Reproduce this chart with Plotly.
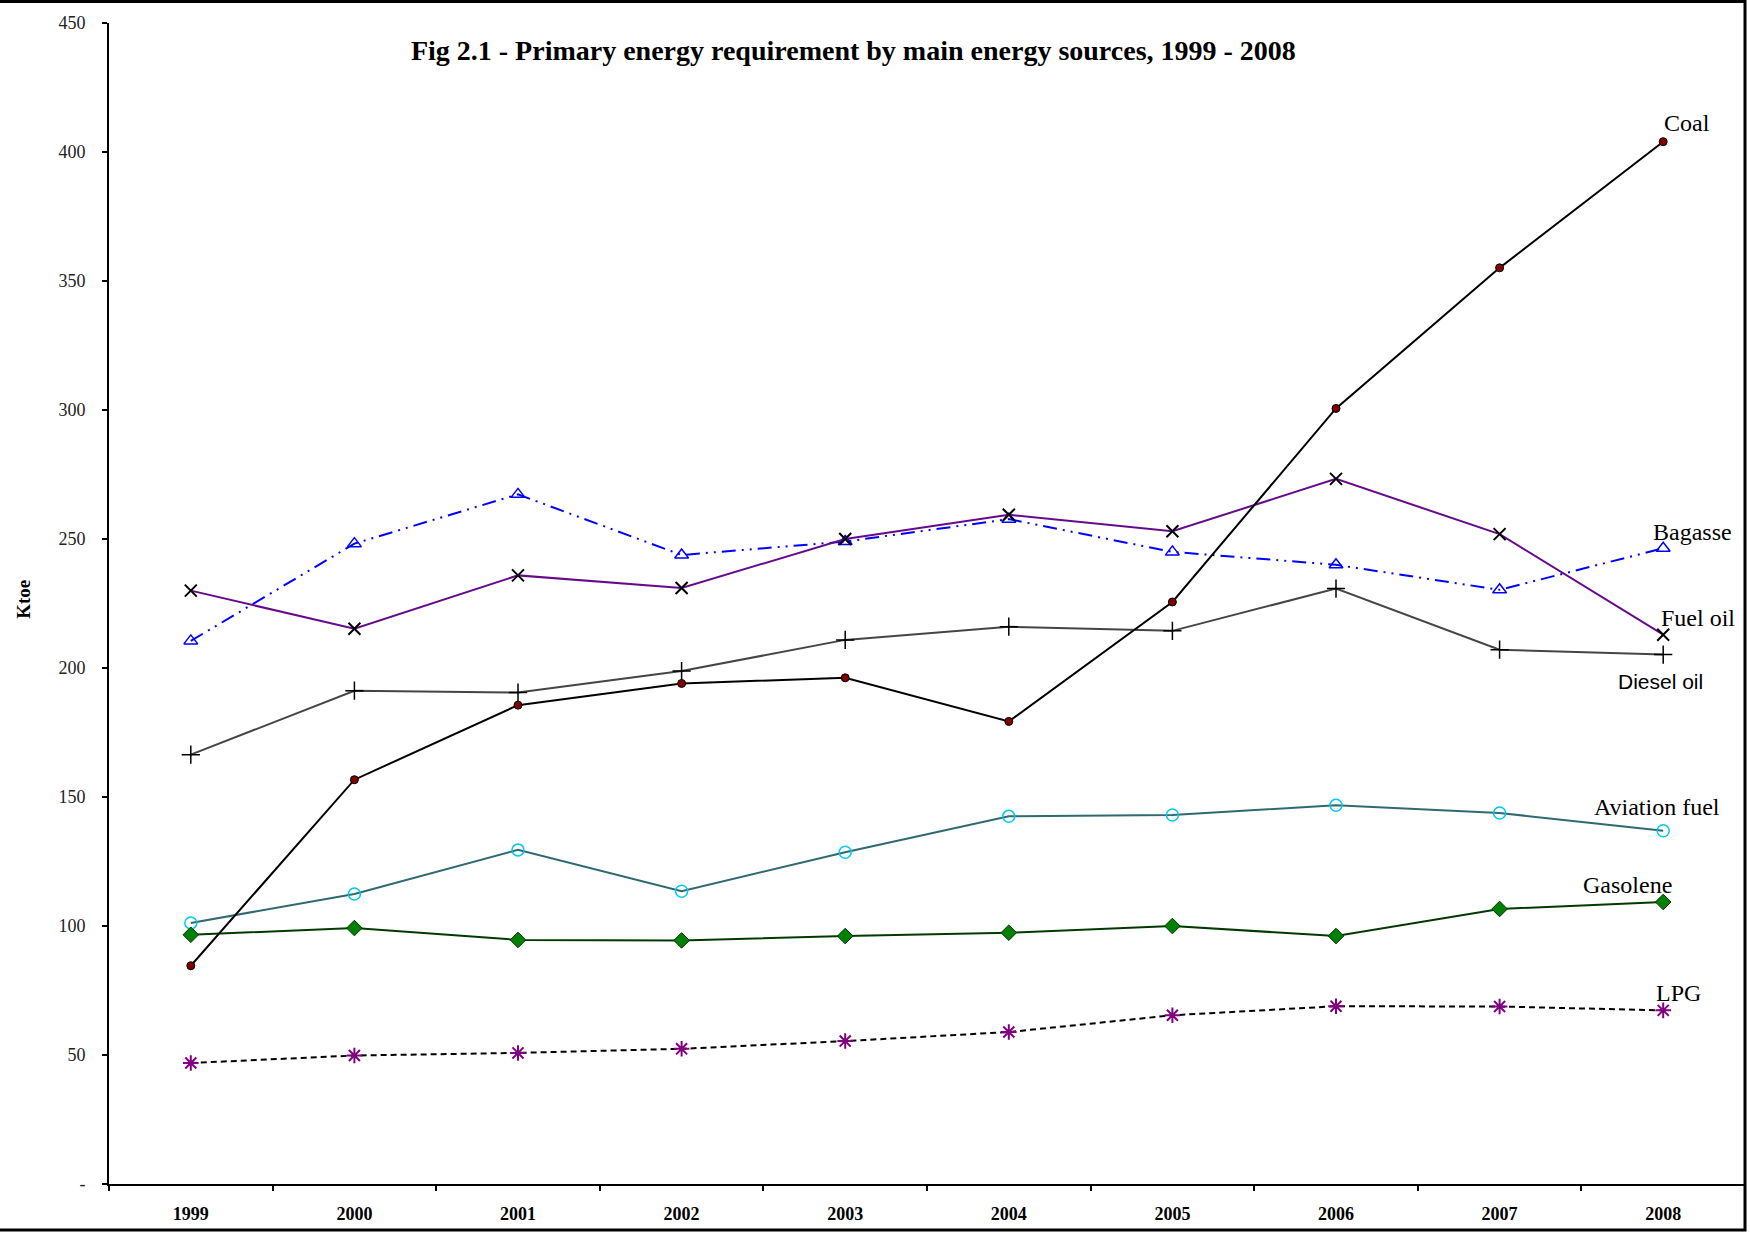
import plotly.graph_objects as go

years = ["1999", "2000", "2001", "2002", "2003", "2004", "2005", "2006", "2007", "2008"]

coal = [84.6, 156.7, 185.6, 194.0, 196.2, 179.3, 225.6, 300.6, 355.1, 404.0]
bagasse = [210.5, 248.2, 267.3, 243.8, 249.0, 257.7, 245.0, 240.0, 230.3, 246.4]
fuel_oil = [230.0, 215.2, 235.9, 231.0, 250.0, 259.4, 253.0, 273.3, 251.9, 212.9]
diesel_oil = [166.4, 191.2, 190.5, 198.8, 210.9, 216.0, 214.4, 230.8, 207.1, 205.2]
aviation_fuel = [101.2, 112.4, 129.5, 113.5, 128.6, 142.5, 143.0, 146.8, 143.8, 136.9]
gasolene = [96.6, 99.2, 94.6, 94.4, 96.1, 97.4, 100.0, 96.1, 106.6, 109.3]
lpg = [46.9, 49.8, 50.8, 52.4, 55.4, 58.9, 65.4, 68.9, 68.8, 67.3]

y_tickvals = [0, 50, 100, 150, 200, 250, 300, 350, 400, 450]
y_ticktext = ["-", "50", "100", "150", "200", "250", "300", "350", "400", "450"]

title_text = "Fig 2.1 - Primary energy requirement by main energy sources, 1999 - 2008"

SERIF = "Liberation Serif, Times New Roman, serif"

fig = go.Figure()

fig.add_trace(go.Scatter(x=years, y=bagasse, name="Bagasse", mode="lines+markers",
                         line=dict(color="#0000FF", width=2, dash="14px,6px,2px,6px,2px,6px"),
                         marker=dict(symbol="triangle-up-open", size=12, color="#0000FF",
                                     line=dict(width=1.5, color="#0000FF"))))
fig.add_trace(go.Scatter(x=years, y=fuel_oil, name="Fuel oil", mode="lines+markers",
                         line=dict(color="#660A8C", width=2),
                         marker=dict(symbol="x-thin", size=12, color="#000000",
                                     line=dict(width=2, color="#000000"))))
fig.add_trace(go.Scatter(x=years, y=diesel_oil, name="Diesel oil", mode="lines+markers",
                         line=dict(color="#454545", width=2),
                         marker=dict(symbol="cross-thin", size=13, color="#000000",
                                     line=dict(width=1.5, color="#000000"))))
fig.add_trace(go.Scatter(x=years, y=aviation_fuel, name="Aviation fuel", mode="lines+markers",
                         line=dict(color="#2E6A70", width=2),
                         marker=dict(symbol="circle-open", size=12, color="#00C8F0",
                                     line=dict(width=1.5, color="#00C8F0"))))
fig.add_trace(go.Scatter(x=years, y=gasolene, name="Gasolene", mode="lines+markers",
                         line=dict(color="#003A00", width=2),
                         marker=dict(symbol="diamond", size=12, color="#008000",
                                     line=dict(width=1, color="#003300"))))
fig.add_trace(go.Scatter(x=years, y=lpg, name="LPG", mode="lines+markers",
                         line=dict(color="#000000", width=2, dash="6px,4px"),
                         marker=dict(symbol="asterisk-open", size=13, color="#800080",
                                     line=dict(width=2, color="#800080"))))
fig.add_trace(go.Scatter(x=years, y=coal, name="Coal", mode="lines+markers",
                         line=dict(color="#000000", width=2),
                         marker=dict(symbol="circle", size=8, color="#800000",
                                     line=dict(width=1, color="#000000"))))

last_idx = len(years) - 1
labels = [
    ("Coal", coal, 24, 19, SERIF, 24),
    ("Bagasse", bagasse, 29, 16, SERIF, 24),
    ("Fuel oil", fuel_oil, 35, 17, SERIF, 24),
    ("Diesel oil", diesel_oil, -3, -27, "Liberation Sans, Arial, sans-serif", 21),
    ("Aviation fuel", aviation_fuel, -6, 24, SERIF, 24),
    ("Gasolene", gasolene, -36, 17, SERIF, 24),
    ("LPG", lpg, 15, 17, SERIF, 24),
]
for text, series, dx, dy, fam, sz in labels:
    fig.add_annotation(x=last_idx, y=series[-1], text=text, showarrow=False,
                       xshift=dx, yshift=dy, xanchor="center", yanchor="middle",
                       font=dict(family=fam, size=sz, color="#000000"))

fig.add_annotation(xref="paper", yref="paper", x=-0.052, y=0.504, text="<b>Ktoe</b>",
                   textangle=-90, showarrow=False, xanchor="center", yanchor="middle",
                   font=dict(family=SERIF, size=19, color="#000000"))

# outer frame of the chart
fig.add_shape(type="rect", xref="paper", yref="paper", x0=-0.2, x1=1.0, y0=-0.0396, y1=1.0185,
              line=dict(color="#000000", width=3), fillcolor="rgba(0,0,0,0)", layer="above")

fig.update_layout(
    width=1750, height=1233,
    margin=dict(l=109, r=5, t=23, b=49),
    paper_bgcolor="#FFFFFF", plot_bgcolor="#FFFFFF",
    showlegend=False,
    title=dict(text="<b>" + title_text + "</b>", x=0.455, xref="paper", xanchor="center",
               y=1 - 50 / 1233, yref="container", yanchor="middle",
               font=dict(family=SERIF, size=28, color="#000000")),
    font=dict(family=SERIF, color="#000000"),
)

fig.update_xaxes(type="category", categoryorder="array", categoryarray=years,
                 range=[-0.5, 9.5], tickson="boundaries", ticks="outside", ticklen=5,
                 tickwidth=2, tickcolor="#000000", showline=True, linecolor="#000000",
                 linewidth=2, showgrid=False, zeroline=False, ticklabelstandoff=12,
                 tickfont=dict(family=SERIF, size=18, color="#000000", weight="bold"))
fig.update_yaxes(range=[0, 450], tickvals=y_tickvals, ticktext=y_ticktext,
                 ticks="outside", ticklen=5, tickwidth=2, tickcolor="#000000",
                 showline=True, linecolor="#000000", linewidth=2, showgrid=False,
                 zeroline=False, ticklabelstandoff=13,
                 tickfont=dict(family=SERIF, size=18, color="#222222"))

fig.write_html("out.html", config={"displayModeBar": False},
               post_script="document.body.style.margin='0';")
